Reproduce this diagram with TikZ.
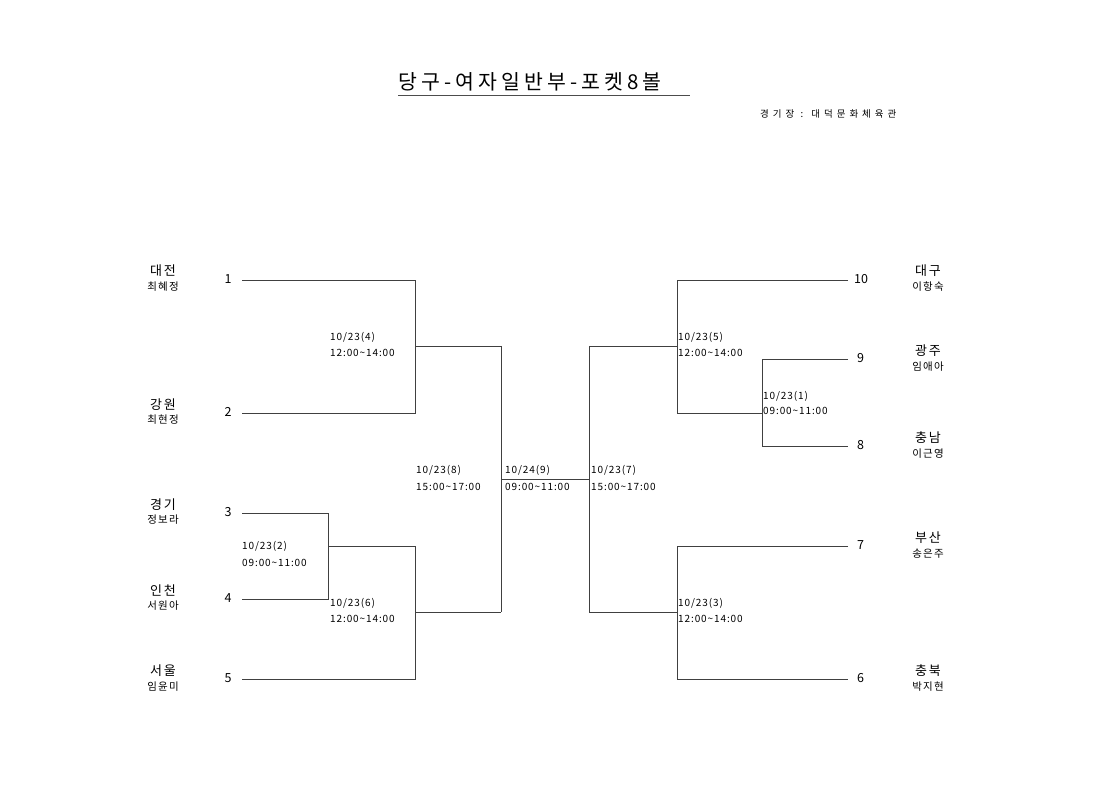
\documentclass[tikz,border=0pt]{standalone}
\usepackage{fontspec}
\setmainfont{Noto Sans CJK KR}
\newfontfamily\titlefont[LetterSpace=20]{Noto Sans CJK KR}
\newfontfamily\venuefont[LetterSpace=42]{Noto Sans CJK KR}
\newfontfamily\teamfont[LetterSpace=14]{Noto Sans CJK KR}
\newfontfamily\personfont[LetterSpace=12]{Noto Sans CJK KR}
\newfontfamily\labfont[LetterSpace=9]{Noto Sans CJK KR}
\begin{document}
\begin{tikzpicture}[x=1pt,y=-1pt,
  br/.style={draw=black!75,line width=0.9pt},
  team/.style={font=\teamfont\fontsize{13}{13}\selectfont,anchor=center,inner sep=0pt},
  person/.style={font=\personfont\fontsize{10.5}{10.5}\selectfont,anchor=center,inner sep=0pt},
  num/.style={font=\fontsize{12.5}{12.5}\selectfont,inner sep=0pt},
  lab/.style={font=\labfont\fontsize{10}{10}\selectfont,anchor=west,inner sep=0pt}]
\useasboundingbox[fill=white] (0,0) rectangle (1120,791);
% title
\node[font=\titlefont\fontsize{20.5}{20.5}\selectfont,anchor=west,inner sep=0pt] (title) at (398,82) {당구-여자일반부-포켓8볼};
\coordinate (ul1) at (398,95); \coordinate (ul2) at (690,95);
\draw[draw=black!70,line width=0.9pt] (ul1) -- (ul2);
\node[font=\venuefont\fontsize{9.5}{9.5}\selectfont,anchor=west,inner sep=0pt] (venue) at (760,114) {경기장 : 대덕문화체육관};
% left teams
\node[team] (t1) at (163,271) {대전}; \node[person] (p1) at (163,287) {최혜정};
\node[team] (t2) at (163,405) {강원}; \node[person] (p2) at (163,420) {최현정};
\node[team] (t3) at (163,505) {경기}; \node[person] (p3) at (163,520) {정보라};
\node[team] (t4) at (163,591) {인천}; \node[person] (p4) at (163,606) {서원아};
\node[team] (t5) at (163,671) {서울}; \node[person] (p5) at (163,687) {임윤미};
% right teams
\node[team] (t10) at (928,271) {대구}; \node[person] (p10) at (928,287) {이항숙};
\node[team] (t9) at (928,351) {광주}; \node[person] (p9) at (928,367) {임애아};
\node[team] (t8) at (928,438) {충남}; \node[person] (p8) at (928,454) {이근영};
\node[team] (t7) at (928,538) {부산}; \node[person] (p7) at (928,554) {송은주};
\node[team] (t6) at (928,671) {충북}; \node[person] (p6) at (928,687) {박지현};
% numbers
\node[num] (n1) at (228,279) {1};
\node[num] (n2) at (228,412) {2};
\node[num] (n3) at (228,512) {3};
\node[num] (n4) at (228,598) {4};
\node[num] (n5) at (228,678) {5};
\node[num,anchor=west] (n10) at (854,279) {10};
\node[num,anchor=west] (n9) at (857,358) {9};
\node[num,anchor=west] (n8) at (857,445) {8};
\node[num,anchor=west] (n7) at (857,545) {7};
\node[num,anchor=west] (n6) at (857,678) {6};
% left bracket coordinates
\coordinate (a1) at (242,280); \coordinate (b1) at (415,280);
\coordinate (a2) at (242,413); \coordinate (b2) at (415,413);
\coordinate (m4) at (415,346); \coordinate (m4e) at (501,346);
\coordinate (a3) at (242,513); \coordinate (b3) at (328,513);
\coordinate (a4) at (242,599); \coordinate (b4) at (328,599);
\coordinate (m2) at (328,546); \coordinate (m2e) at (415,546);
\coordinate (a5) at (242,679); \coordinate (b5) at (415,679);
\coordinate (m6e) at (501,612); \coordinate (m6) at (415,612);
\coordinate (m8) at (501,479); \coordinate (m7) at (589,479);
% right bracket coordinates
\coordinate (a10) at (848,280); \coordinate (b10) at (677,280);
\coordinate (a9) at (848,359); \coordinate (b9) at (762,359);
\coordinate (a8) at (848,446); \coordinate (b8) at (762,446);
\coordinate (m1) at (762,413); \coordinate (m1e) at (677,413);
\coordinate (m5) at (677,346); \coordinate (m5e) at (589,346);
\coordinate (a7) at (848,546); \coordinate (b7) at (677,546);
\coordinate (a6) at (848,679); \coordinate (b6) at (677,679);
\coordinate (m3) at (677,612); \coordinate (m3e) at (589,612);
% left lines
\draw[br] (a1) -- (b1) -- (b2) -- (a2);
\draw[br] (m4) -- (m4e);
\draw[br] (a3) -- (b3) -- (b4) -- (a4);
\draw[br] (m2) -- (m2e) -- (b5) -- (a5);
\draw[br] (m6) -- (m6e);
\draw[br] (m4e) -- (m6e);
\draw[br] (m8) -- (m7);
% right lines
\draw[br] (a10) -- (b10) -- (m1e);
\draw[br] (a9) -- (b9) -- (b8) -- (a8);
\draw[br] (m1) -- (m1e);
\draw[br] (m5) -- (m5e);
\draw[br] (a7) -- (b7) -- (b6) -- (a6);
\draw[br] (m3) -- (m3e);
\draw[br] (m5e) -- (m3e);
% match labels
\node[lab] (g4a) at (330,337) {10/23(4)}; \node[lab] (g4b) at (330,353) {12:00\textasciitilde 14:00};
\node[lab] (g2a) at (242,546) {10/23(2)}; \node[lab] (g2b) at (242,563) {09:00\textasciitilde 11:00};
\node[lab] (g6a) at (330,603) {10/23(6)}; \node[lab] (g6b) at (330,619) {12:00\textasciitilde 14:00};
\node[lab] (g8a) at (416,470) {10/23(8)}; \node[lab] (g8b) at (416,487) {15:00\textasciitilde 17:00};
\node[lab] (g9a) at (505,470) {10/24(9)}; \node[lab] (g9b) at (505,487) {09:00\textasciitilde 11:00};
\node[lab] (g7a) at (591,470) {10/23(7)}; \node[lab] (g7b) at (591,487) {15:00\textasciitilde 17:00};
\node[lab] (g5a) at (678,337) {10/23(5)}; \node[lab] (g5b) at (678,353) {12:00\textasciitilde 14:00};
\node[lab] (g1a) at (763,396) {10/23(1)}; \node[lab] (g1b) at (763,411) {09:00\textasciitilde 11:00};
\node[lab] (g3a) at (678,603) {10/23(3)}; \node[lab] (g3b) at (678,619) {12:00\textasciitilde 14:00};
\end{tikzpicture}
\end{document}
